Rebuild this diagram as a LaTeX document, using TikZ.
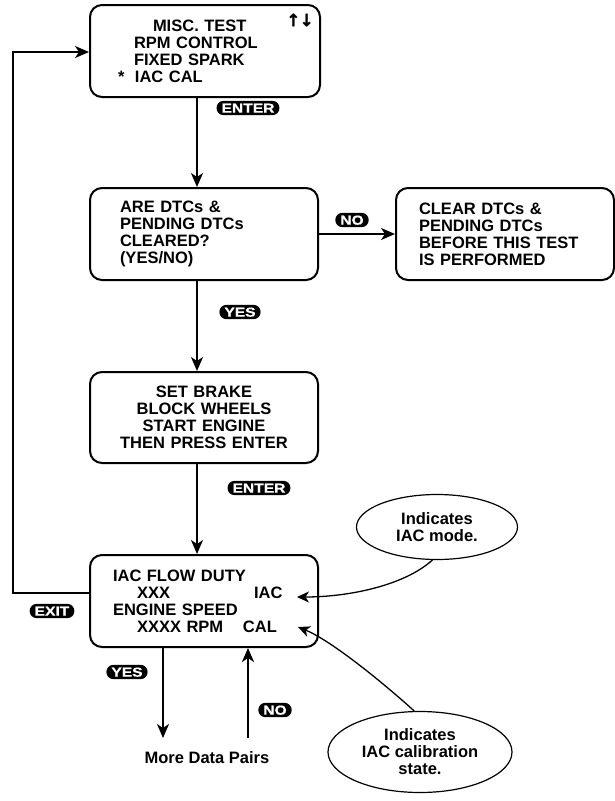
\documentclass[tikz,border=0pt]{standalone}
\usepackage{fontspec}
\setmainfont{Liberation Sans}
\newfontfamily\keyfam{Liberation Sans}[FakeStretch=1.2,FakeBold=0.8]
\newfontfamily\symfam{DejaVu Sans}[FakeBold=1.5]
\usetikzlibrary{arrows.meta,shapes.geometric}

\begin{document}
\begin{tikzpicture}[x=1pt,y=-1pt,
        screen/.style={shape=rectangle,draw=black,line width=2pt,rounded corners=12pt,align=left,minimum height=92pt,font=\fontsize{16.5}{17}\selectfont\bfseries},
        key/.style={shape=rectangle,fill=black,text=white,rounded corners=7pt,inner xsep=5pt,inner ysep=2.5pt,text height=9.3pt,text depth=0pt,font=\keyfam\bfseries\fontsize{13}{13}\selectfont},
        note/.style={shape=ellipse,draw=black,line width=1.2pt,align=center,inner sep=0pt,font=\fontsize{16.5}{17}\selectfont\bfseries},
        flow/.style={line width=2pt,-{Stealth[length=14pt,width=12pt,inset=4pt]}},
        pointer/.style={line width=1.3pt,-{Stealth[length=12pt,width=11pt,inset=3.5pt]}}]
        \useasboundingbox (0,0) rectangle (615,801);

        \node[screen,inner xsep=28pt,text width=174pt] (menu) at (205,51)
          {\hspace*{35pt}MISC. TEST\\ \hspace*{16pt}RPM CONTROL\\ \hspace*{16pt}FIXED SPARK\\ \makebox[17pt][l]{*}IAC CAL};
        \node[font=\symfam\bfseries\fontsize{17}{17}\selectfont,inner sep=0pt] (scroll) at (300,20) {↑\kern-1pt↓};
        \node[screen,inner xsep=30pt,text width=168pt] (dtcq) at (204,234)
          {ARE DTCs \&\\ PENDING DTCs\\ CLEARED?\\ (YES/NO)};
        \node[screen,inner xsep=23pt,text width=172pt] (clear) at (505,234)
          {CLEAR DTCs \&\\ PENDING DTCs\\ BEFORE THIS TEST\\ IS PERFORMED};
        \node[screen,align=center,inner xsep=14pt,text width=200pt,minimum height=91pt] (prep) at (204,417.5)
          {SET BRAKE\\ BLOCK WHEELS\\ START ENGINE\\ THEN PRESS ENTER};
        \node[screen,inner xsep=23pt,text width=182pt] (live) at (204,601)
          {IAC FLOW DUTY\\ \hspace*{24pt}\makebox[117pt][l]{XXX}IAC\\ ENGINE SPEED\\ \hspace*{24pt}\makebox[106pt][l]{XXXX RPM}CAL};
        \node[font=\fontsize{16.5}{17}\selectfont\bfseries] (more) at (207,758) {More Data Pairs};

        \node[note,minimum width=161pt,minimum height=65pt] (mode) at (437,527) {Indicates\\ IAC mode.};
        \node[note,minimum width=184pt,minimum height=81pt] (state) at (420,752) {Indicates\\ IAC calibration\\ state.};

        \node[key] (enter1) at (248,108) {ENTER};
        \node[key] (no1) at (352,220) {NO};
        \node[key] (yes1) at (240,312) {YES};
        \node[key] (enter2) at (259,488) {ENTER};
        \node[key] (exit) at (52,611) {EXIT};
        \node[key] (yes2) at (127,672) {YES};
        \node[key] (no2) at (275,710) {NO};

        \coordinate (spine) at (197,0);
        \coordinate (exitrow) at (0,593);
        \coordinate (loop) at (13,52);
        \coordinate (down) at (163,738);
        \coordinate (up) at (248,738);
        \coordinate (iacpt) at (297,597);
        \coordinate (calpt) at (298,627);

        \draw[flow] (menu.south -| spine) -- (dtcq.north -| spine);
        \draw[flow] (dtcq.south -| spine) -- (prep.north -| spine);
        \draw[flow] (prep.south -| spine) -- (live.north -| spine);
        \draw[flow] (dtcq.east) -- (clear.west);
        \draw[flow] (live.west |- exitrow) -| (loop) -- (menu.west |- loop);
        \draw[flow] (live.south -| down) -- (down);
        \draw[flow] (up) -- (live.south -| up);

        \draw[pointer] (mode.-98) .. controls (405,585) and (350,597) .. (iacpt);
        \draw[pointer] (state.98) .. controls (380,680) and (330,640) .. (calpt);
\end{tikzpicture}
\end{document}
